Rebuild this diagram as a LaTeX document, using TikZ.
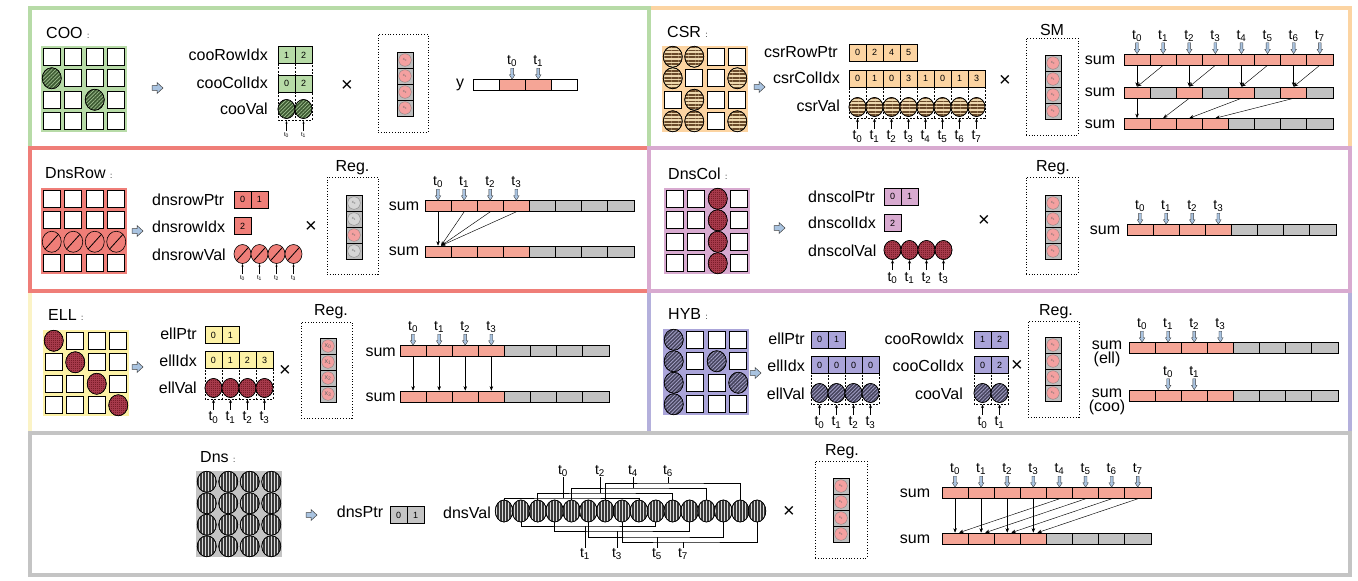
\documentclass[tikz,border=0pt]{standalone}
\usepackage{fontspec}
\setmainfont{Liberation Sans}
\usetikzlibrary{arrows.meta,shapes.geometric,patterns.meta,calc}

%% panel and cell colours
\definecolor{cooG}{HTML}{B7DBA7}
\definecolor{csrO}{HTML}{FCD4A2}
\definecolor{rowR}{HTML}{EF7E78}
\definecolor{colP}{HTML}{D8AAD0}
\definecolor{ellY}{HTML}{FDF2A6}
\definecolor{ellB}{HTML}{FBF3C6}
\definecolor{hybP}{HTML}{AAA4D9}
\definecolor{hybB}{HTML}{B4B0DC}
\definecolor{dnsG}{HTML}{C4C4C4}
\definecolor{sP}{HTML}{F5A596}
\definecolor{sG}{HTML}{C2C2C2}
\definecolor{xP}{HTML}{F4A0A0}
\definecolor{xL}{HTML}{D6D6D6}
\definecolor{xG}{HTML}{BDBDBD}
\definecolor{tblue}{HTML}{A9C3E0}
%% dot colours
\definecolor{cooD}{HTML}{3D5A32}\definecolor{cooL}{HTML}{A0BF90}
\definecolor{csrL}{HTML}{EED8AE}\definecolor{csrD}{HTML}{6A4A2A}
\definecolor{colD}{HTML}{7A1C29}\definecolor{colL}{HTML}{A63A4B}
\definecolor{hybD}{HTML}{47455F}\definecolor{hybL}{HTML}{A3A0C6}
\definecolor{dnsL}{HTML}{DADADA}\definecolor{dnsD}{HTML}{3A3A3A}

\tikzset{
  panel/.style={draw=#1, line width=3.5pt},
  lbl/.style={font=\fontsize{16}{16}\selectfont, inner sep=0pt},
  times/.style={font=\fontsize{20}{20}\selectfont, inner sep=0pt},
  tlab/.style={font=\fontsize{14}{14}\selectfont, inner sep=0pt},
  tinylab/.style={font=\fontsize{6}{6}\selectfont, inner sep=0pt},
  idxcell/.style={draw, line width=0.7pt, fill=#1, minimum width=17pt,
                  minimum height=17pt, inner sep=0pt, font=\fontsize{9}{9}\selectfont},
  valdot/.style={ellipse, draw, line width=0.6pt, minimum width=17pt,
                 minimum height=19pt, inner sep=0pt},
  sumcell/.style={draw, line width=0.6pt, fill=#1, minimum width=26.1pt,
                  minimum height=11pt, inner sep=0pt},
  xcell/.style={draw, line width=0.7pt, fill=xG, minimum width=16pt,
                minimum height=16pt, inner sep=0pt},
  xdot/.style={circle, draw=black!55, line width=0.3pt, fill=#1, minimum size=12.5pt,
               inner sep=0pt, text=black!60},
  regbox/.style={draw, dotted, line width=0.8pt, inner sep=0pt},
  dashbox/.style={dash pattern=on 2pt off 1.5pt, line width=0.6pt},
  flow/.style={-{Stealth[length=4.5pt,width=3.5pt]}, line width=0.45pt},
  brk/.style={line width=0.7pt},
  %% dot fillings
  cooDot/.style={fill=cooD, postaction={pattern={Lines[angle=45,distance=2.6pt,line width=0.7pt]}, pattern color=cooL},
                 postaction={draw=black, line width=0.6pt}},
  csrDot/.style={fill=csrL, postaction={pattern={Lines[angle=0,distance=3.4pt,line width=1.8pt]}, pattern color=csrD},
                 postaction={draw=black, line width=0.6pt}},
  rowDot/.style={fill=rowR, path picture={\draw[line width=0.8pt]
                 (path picture bounding box.south west) -- (path picture bounding box.north east);}},
  colDot/.style={fill=colD, postaction={pattern={Hatch[distance=2pt,line width=0.4pt]}, pattern color=colL},
                 postaction={draw=black, line width=0.6pt}},
  hybDot/.style={fill=hybD, postaction={pattern={Lines[angle=45,distance=2.6pt,line width=0.8pt]}, pattern color=hybL},
                 postaction={draw=black, line width=0.6pt}},
  dnsDot/.style={fill=dnsL, postaction={pattern={Lines[angle=90,distance=3pt,line width=1.4pt]}, pattern color=dnsD},
                 postaction={draw=black, line width=0.6pt}},
  %% small marks
  pics/nextarr/.style={code={\draw[fill=tblue, draw=black!75, line width=0.5pt]
      (-5,-2.3) -- (0,-2.3) -- (0,-5.5) -- (6,0) -- (0,5.5) -- (0,2.3) -- (-5,2.3) -- cycle;}},
  pics/tdn/.style={code={
      \draw[fill=tblue, draw=black!75, line width=0.4pt]
        (-1.4,-11) -- (1.4,-11) -- (1.4,-4.5) -- (2.8,-4.5) -- (0,0) -- (-2.8,-4.5) -- (-1.4,-4.5) -- cycle;
      \node[tlab] (-tl) at (0,-18) {t\textsubscript{#1}};}},
  pics/tup/.style={code={
      \draw[-{Stealth[length=3.5pt,width=3pt]}, line width=0.5pt] (0,10) -- (0,0);
      \node[tlab] (-tl) at (0,18) {t\textsubscript{#1}};}},
  pics/tups/.style={code={
      \draw[-{Stealth[length=2.5pt,width=2pt]}, line width=0.4pt] (0,10) -- (0,0);
      \node[tinylab] (-tl) at (0,14) {t\textsubscript{#1}};}}
}

%% 4x4 matrix: name, top-left, background, dot style, rows (1 = dot)
\newcommand{\spmat}[5]{%
  \fill[#3] #2 rectangle ++(86,86);
  \foreach \row [count=\mr from 0] in {#5}{
    \foreach \mv [count=\mc from 0] in \row {
      \ifnum\mv=1
        \node[valdot, #4, minimum width=19pt, minimum height=21pt] (#1-\mr\mc)
          at ($#2+(10.75+21.5*\mc,10.75+21.5*\mr)$) {};
      \else
        \node[draw, line width=1pt, fill=white, minimum size=17pt, inner sep=0pt] (#1-\mr\mc)
          at ($#2+(10.75+21.5*\mc,10.75+21.5*\mr)$) {};
      \fi}}}
%% index array: name, left x, centre y, colour, values
\newcommand{\idxrow}[5]{%
  \foreach \iv [count=\ii from 0] in {#5}{
    \node[idxcell=#4] (#1-\ii) at ({#2+8.5+17*\ii},#3) {\iv};}}
%% value dots: name, left x, centre y, dot style, last index
\newcommand{\valrow}[5]{%
  \foreach \ii in {0,...,#5}{
    \node[valdot, #4] (#1-\ii) at ({#2+8.5+17*\ii},#3) {};}}
%% dashed columns under an array: left x, top y, bottom y, columns
\newcommand{\dashcols}[4]{%
  \draw[dashbox] (#1,#2) rectangle ({#1+17*#4},#3);
  \pgfmathtruncatemacro\dn{#4-1}
  \foreach \di in {1,...,\dn}{\draw[dashbox] ({#1+17*\di},#2) -- ({#1+17*\di},#3);}}
%% x vector: name, centre x, top y, dot colours, label size
\newcommand{\xvec}[5]{%
  \foreach \xc [count=\xi from 0] in {#4}{
    \node[xcell] (#1-\xi) at (#2,{#3+8+16*\xi}) {};
    \node[xdot=\xc, font=\fontsize{#5}{#5}\selectfont] (#1d-\xi) at (#1-\xi) {x\textsubscript{\xi}};}}
%% sum bar: name, left x, centre y, cell colours
\newcommand{\sumbar}[4]{%
  \foreach \sc [count=\si from 0] in {#4}{
    \node[sumcell=\sc] (#1-\si) at ({#2+13.05+26.1*\si},#3) {};}}

\begin{document}
\begin{tikzpicture}[x=1pt, y=-1pt]
  \useasboundingbox (0,0) rectangle (1358,581);
  %% Frames
  \draw[panel=csrO] (649,8) rectangle (1350,148);
  \draw[panel=cooG] (30,8) rectangle (649,148);
  \draw[panel=ellB] (30,291) rectangle (649,433);
  \draw[panel=hybB] (649,291) rectangle (1350,433);
  \draw[panel=rowR] (30,148) rectangle (649,291);
  \draw[panel=colP] (649,148) rectangle (1350,291);
  \draw[panel=dnsG] (30,433) rectangle (1350,575);

  %% COO
  \node[lbl, anchor=west] (cooT) at (46,33) {COO {\fontsize{8}{8}\selectfont :}};
  \spmat{cooM}{(41,46)}{cooG}{cooDot}{{0,0,0,0},{1,0,0,0},{0,0,1,0},{0,0,0,0}}
  \pic at (157,88) {nextarr};
  \node[lbl, anchor=east] (cooRL) at (268,55) {cooRowIdx};
  \node[lbl, anchor=east] (cooCL) at (268,83) {cooColIdx};
  \node[lbl, anchor=east] (cooVL) at (268,109) {cooVal};
  \dashcols{278}{46}{120}{2}
  \idxrow{cooR}{278}{55}{cooG}{1,2}
  \idxrow{cooC}{278}{83.5}{cooG}{0,2}
  \valrow{cooV}{278}{109}{cooDot}{1}
  \foreach \k in {0,1} \pic (cooU\k) at ($(cooV-\k)+(0,12)$) {tups=\k};
  \node[times] (cooX) at (347,86) {×};
  \node[regbox, minimum width=50pt, minimum height=98pt] (cooReg) at (403,83) {};
  \xvec{cooXv}{405}{52}{xP,xP,xP,xP}{4}
  \node[lbl] (cooYL) at (460,85) {y};
  \sumbar{cooYb}{473}{85}{white,sP,sP,white}
  \pic (cooTd0) at (cooYb-1.north) {tdn=0};
  \pic (cooTd1) at (cooYb-2.north) {tdn=1};

  %% CSR
  \node[lbl, anchor=west] (csrT) at (667,32) {CSR {\fontsize{8}{8}\selectfont :}};
  \spmat{csrM}{(662,46)}{csrO}{csrDot}{{1,1,0,0},{1,0,0,1},{0,1,0,0},{1,1,0,1}}
  \pic at (759,87) {nextarr};
  \node[lbl, anchor=east] (csrPL) at (838,52) {csrRowPtr};
  \node[lbl, anchor=east] (csrCL) at (840,78) {csrColIdx};
  \node[lbl, anchor=east] (csrVL) at (840,106) {csrVal};
  \dashcols{849}{70}{118}{8}
  \idxrow{csrP}{849}{52.5}{csrO}{0,2,4,5}
  \idxrow{csrC}{849}{78.5}{csrO}{0,1,0,3,1,0,1,3}
  \valrow{csrV}{849}{107}{csrDot}{7}
  \foreach \k in {0,...,7} \pic (csrU\k) at ($(csrV-\k)+(0,11.5)$) {tup=\k};
  \node[times] (csrX) at (1005,81) {×};
  \node[regbox, minimum width=52pt, minimum height=97pt] (csrReg) at (1052,86.5) {};
  \node[lbl] (csrSM) at (1052,30) {SM};
  \xvec{csrXv}{1053}{55}{xP,xP,xP,xP}{4}
  \node[lbl] (csrL1) at (1100,60) {sum};
  \node[lbl] (csrL2) at (1100,92) {sum};
  \node[lbl] (csrL3) at (1100,124) {sum};
  \sumbar{csrS1}{1124}{59.5}{sP,sP,sP,sP,sP,sP,sP,sP}
  \sumbar{csrS2}{1124}{92.5}{sP,sG,sP,sG,sP,sG,sP,sG}
  \sumbar{csrS3}{1124}{124}{sP,sP,sP,sP,sG,sG,sG,sG}
  \foreach \k in {0,...,7} \pic (csrTd\k) at (csrS1-\k.north) {tdn=\k};
  \foreach \k in {0,2,4,6}{
    \pgfmathtruncatemacro\kk{\k+1}
    \draw[flow] (csrS1-\k.south) -- (csrS2-\k.north);
    \draw[flow] (csrS1-\kk.south) -- (csrS2-\k.north);
  }
  \draw[flow] (csrS2-0.south) -- (csrS3-0.north);
  \foreach \a/\b in {2/1,4/2,6/3} \draw[flow] (csrS2-\a.south) -- (csrS3-\b.north);

  %% DnsRow
  \node[lbl, anchor=west] (rowT) at (45,173) {DnsRow {\fontsize{8}{8}\selectfont :}};
  \spmat{rowM}{(41,188)}{rowR}{rowDot}{{0,0,0,0},{0,0,0,0},{1,1,1,1},{0,0,0,0}}
  \pic at (137,231) {nextarr};
  \node[lbl, anchor=west] (rowPL) at (152,200) {dnsrowPtr};
  \node[lbl, anchor=west] (rowIL) at (152,227) {dnsrowIdx};
  \node[lbl, anchor=west] (rowVL) at (152,255) {dnsrowVal};
  \idxrow{rowP}{234}{199.5}{rowR}{0,1}
  \idxrow{rowI}{234}{226}{rowR}{2}
  \valrow{rowV}{234}{254}{rowDot}{3}
  \foreach \k in {0,...,3} \pic (rowU\k) at ($(rowV-\k)+(0,10)$) {tups=\k};
  \node[times] (rowX) at (311,227) {×};
  \node[regbox, minimum width=51pt, minimum height=97pt] (rowReg) at (352.5,225.5) {};
  \node[lbl] (rowRegL) at (352.5,168) {Reg.};
  \xvec{rowXv}{354}{195}{xL,xL,xP,xL}{4}
  \node[lbl] (rowL1) at (404,206) {sum};
  \node[lbl] (rowL2) at (404,251) {sum};
  \sumbar{rowS1}{425}{206}{sP,sP,sP,sP,sG,sG,sG,sG}
  \sumbar{rowS2}{425}{251.5}{sP,sP,sP,sP,sG,sG,sG,sG}
  \foreach \k in {0,...,3} \pic (rowTd\k) at (rowS1-\k.north) {tdn=\k};
  \draw[flow] (rowS1-0.south) -- (rowS2-0.north);
  \foreach \k in {1,2,3} \draw[flow] (rowS1-\k.south) -- ($(rowS2-0.north)+(3,0)$);

  %% DnsCol
  \node[lbl, anchor=west] (colT) at (668,174) {DnsCol {\fontsize{8}{8}\selectfont :}};
  \spmat{colM}{(664,188)}{colP}{colDot}{{0,0,1,0},{0,0,1,0},{0,0,1,0},{0,0,1,0}}
  \pic at (779,228) {nextarr};
  \node[lbl, anchor=west] (colPL) at (808,197) {dnscolPtr};
  \node[lbl, anchor=west] (colIL) at (808,223) {dnscolIdx};
  \node[lbl, anchor=west] (colVL) at (808,251) {dnscolVal};
  \idxrow{colPc}{884}{196.5}{colP}{0,1}
  \idxrow{colIc}{884}{223}{colP}{2}
  \valrow{colV}{884}{250}{colDot}{3}
  \foreach \k in {0,...,3} \pic (colU\k) at ($(colV-\k)+(0,10)$) {tup=\k};
  \node[times] (colX) at (984,221) {×};
  \node[regbox, minimum width=52pt, minimum height=97pt] (colReg) at (1052,225.5) {};
  \node[lbl] (colRegL) at (1053,168) {Reg.};
  \xvec{colXv}{1053}{195}{xP,xP,xP,xP}{4}
  \node[lbl] (colL1) at (1105,230) {sum};
  \sumbar{colS}{1127}{230}{sP,sP,sP,sP,sG,sG,sG,sG}
  \foreach \k in {0,...,3} \pic (colTd\k) at (colS-\k.north) {tdn=\k};

  %% ELL
  \node[lbl, anchor=west] (ellT) at (48,315) {ELL {\fontsize{8}{8}\selectfont :}};
  \spmat{ellM}{(43,330)}{ellY}{colDot}{{1,0,0,0},{0,1,0,0},{0,0,1,0},{0,0,0,1}}
  \pic at (137,367) {nextarr};
  \node[lbl, anchor=east] (ellPL) at (197,334) {ellPtr};
  \node[lbl, anchor=east] (ellIL) at (197,361) {ellIdx};
  \node[lbl, anchor=east] (ellVL) at (197,388) {ellVal};
  \dashcols{205}{352}{399}{4}
  \idxrow{ellP}{205}{335}{ellY}{0,1}
  \idxrow{ellI}{205}{360}{ellY}{0,1,2,3}
  \valrow{ellV}{205}{388}{colDot}{3}
  \foreach \k in {0,...,3} \pic (ellU\k) at ($(ellV-\k)+(0,11.5)$) {tup=\k};
  \node[times] (ellX) at (285,371) {×};
  \node[regbox, minimum width=51pt, minimum height=96pt] (ellReg) at (326.5,370) {};
  \node[lbl] (ellRegL) at (331,312) {Reg.};
  \xvec{ellXv}{328}{338}{xP,xP,xP,xP}{7}
  \node[lbl, anchor=east] (ellL1) at (396,352) {sum};
  \node[lbl, anchor=east] (ellL2) at (396,397) {sum};
  \sumbar{ellS1}{400}{351}{sP,sP,sP,sP,sG,sG,sG,sG}
  \sumbar{ellS2}{400}{396.5}{sP,sP,sP,sP,sG,sG,sG,sG}
  \foreach \k in {0,...,3}{
    \pic (ellTd\k) at (ellS1-\k.north) {tdn=\k};
    \draw[flow] (ellS1-\k.south) -- (ellS2-\k.north);
  }

  %% HYB
  \node[lbl, anchor=west] (hybT) at (668,314) {HYB {\fontsize{8}{8}\selectfont :}};
  \spmat{hybM}{(663,329)}{hybP}{hybDot}{{1,0,0,0},{1,0,1,0},{1,0,0,1},{1,0,0,0}}
  \pic at (755,373) {nextarr};
  \node[lbl, anchor=east] (hybEPL) at (805,339) {ellPtr};
  \node[lbl, anchor=east] (hybEIL) at (805,366) {ellIdx};
  \node[lbl, anchor=east] (hybEVL) at (805,394) {ellVal};
  \dashcols{811}{357}{404}{4}
  \idxrow{hybEP}{811}{339.5}{hybP}{0,1}
  \idxrow{hybEI}{811}{365}{hybP}{0,0,0,0}
  \valrow{hybEV}{811}{393}{hybDot}{3}
  \foreach \k in {0,...,3} \pic (hybEU\k) at ($(hybEV-\k)+(0,11.5)$) {tup=\k};
  \node[lbl, anchor=east] (hybCRL) at (964,339) {cooRowIdx};
  \node[lbl, anchor=east] (hybCCL) at (964,366) {cooColIdx};
  \node[lbl, anchor=east] (hybCVL) at (963,394) {cooVal};
  \dashcols{974}{357}{404}{2}
  \idxrow{hybCR}{974}{339.5}{hybP}{1,2}
  \idxrow{hybCC}{974}{365}{hybP}{0,2}
  \valrow{hybCV}{974}{393}{hybDot}{1}
  \foreach \k in {0,1} \pic (hybCU\k) at ($(hybCV-\k)+(0,11.5)$) {tup=\k};
  \node[times] (hybX) at (1017,366) {×};
  \node[regbox, minimum width=51pt, minimum height=96pt] (hybReg) at (1053.5,369) {};
  \node[lbl] (hybRegL) at (1056,312) {Reg.};
  \xvec{hybXv}{1053}{337}{xP,xP,xP,xP}{4}
  \node[lbl, align=center, font=\fontsize{16}{14.5}\selectfont] (hybL1) at (1107,354) {sum\\(ell)};
  \node[lbl, align=center, font=\fontsize{16}{14.5}\selectfont] (hybL2) at (1107,402) {sum\\(coo)};
  \sumbar{hybS1}{1129}{348}{sP,sP,sP,sP,sG,sG,sG,sG}
  \sumbar{hybS2}{1129}{395.5}{sP,sP,sP,sP,sG,sG,sG,sG}
  \foreach \k in {0,...,3} \pic (hybTd\k) at (hybS1-\k.north) {tdn=\k};
  \pic (hybTc0) at (hybS2-1.north) {tdn=0};
  \pic (hybTc1) at (hybS2-2.north) {tdn=1};

  %% Dns
  \node[lbl, anchor=west] (dnsT) at (200,457) {Dns {\fontsize{8}{8}\selectfont :}};
  \spmat{dnsM}{(196,471)}{dnsG}{dnsDot}{{1,1,1,1},{1,1,1,1},{1,1,1,1},{1,1,1,1}}
  \pic at (311,515) {nextarr};
  \node[lbl] (dnsPL) at (360,512) {dnsPtr};
  \idxrow{dnsP}{390}{515}{dnsG}{0,1}
  \node[lbl] (dnsVL) at (467,513) {dnsVal};
  \foreach \k in {0,...,15}
    \node[valdot, dnsDot, minimum width=17.5pt, minimum height=22pt] (dnsV-\k) at ({504+16.87*\k},511) {};
  %% thread brackets: even threads above, odd threads below
  \foreach \j/\x/\y in {0/563/498, 1/600/493, 2/633/488, 3/668/483}{
    \pgfmathtruncatemacro\a{2*\j}
    \pgfmathtruncatemacro\b{2*\j+8}
    \node[tlab] (dnsTt-\a) at (\x,471) {t\textsubscript{\a}};
    \coordinate (dnsJ-\a) at (\x,\y);
    \draw[brk] (dnsV-\a.north) |- (dnsJ-\a) -| (dnsV-\b.north);
    \draw[brk] (dnsJ-\a) -- (dnsTt-\a.south);
  }
  \foreach \j/\x/\y in {0/585/526, 1/617/531, 2/657/537, 3/683/542}{
    \pgfmathtruncatemacro\a{2*\j+1}
    \pgfmathtruncatemacro\b{2*\j+9}
    \node[tlab] (dnsTt-\a) at (\x,554) {t\textsubscript{\a}};
    \coordinate (dnsJ-\a) at (\x,\y);
    \draw[brk] (dnsV-\a.south) |- (dnsJ-\a) -| (dnsV-\b.south);
    \draw[brk] (dnsJ-\a) -- (dnsTt-\a.north);
  }
  \node[times] (dnsX) at (789,512) {×};
  \node[regbox, minimum width=52pt, minimum height=97pt] (dnsReg) at (841,509.5) {};
  \node[lbl] (dnsRegL) at (842,452) {Reg.};
  \xvec{dnsXv}{841}{478}{xP,xP,xP,xP}{4}
  \node[lbl] (dnsL1) at (915,493) {sum};
  \node[lbl] (dnsL2) at (915,539) {sum};
  \sumbar{dnsS1}{942}{493}{sP,sP,sP,sP,sP,sP,sP,sP}
  \sumbar{dnsS2}{942}{538.5}{sP,sP,sP,sP,sG,sG,sG,sG}
  \foreach \k in {0,...,7} \pic (dnsTd\k) at (dnsS1-\k.north) {tdn=\k};
  \foreach \k in {0,...,3}{
    \pgfmathtruncatemacro\kk{\k+4}
    \draw[flow] (dnsS1-\k.south) -- (dnsS2-\k.north);
    \draw[flow] (dnsS1-\kk.south) -- ($(dnsS2-\k.north)+(4,0)$);
  }
\end{tikzpicture}
\end{document}
